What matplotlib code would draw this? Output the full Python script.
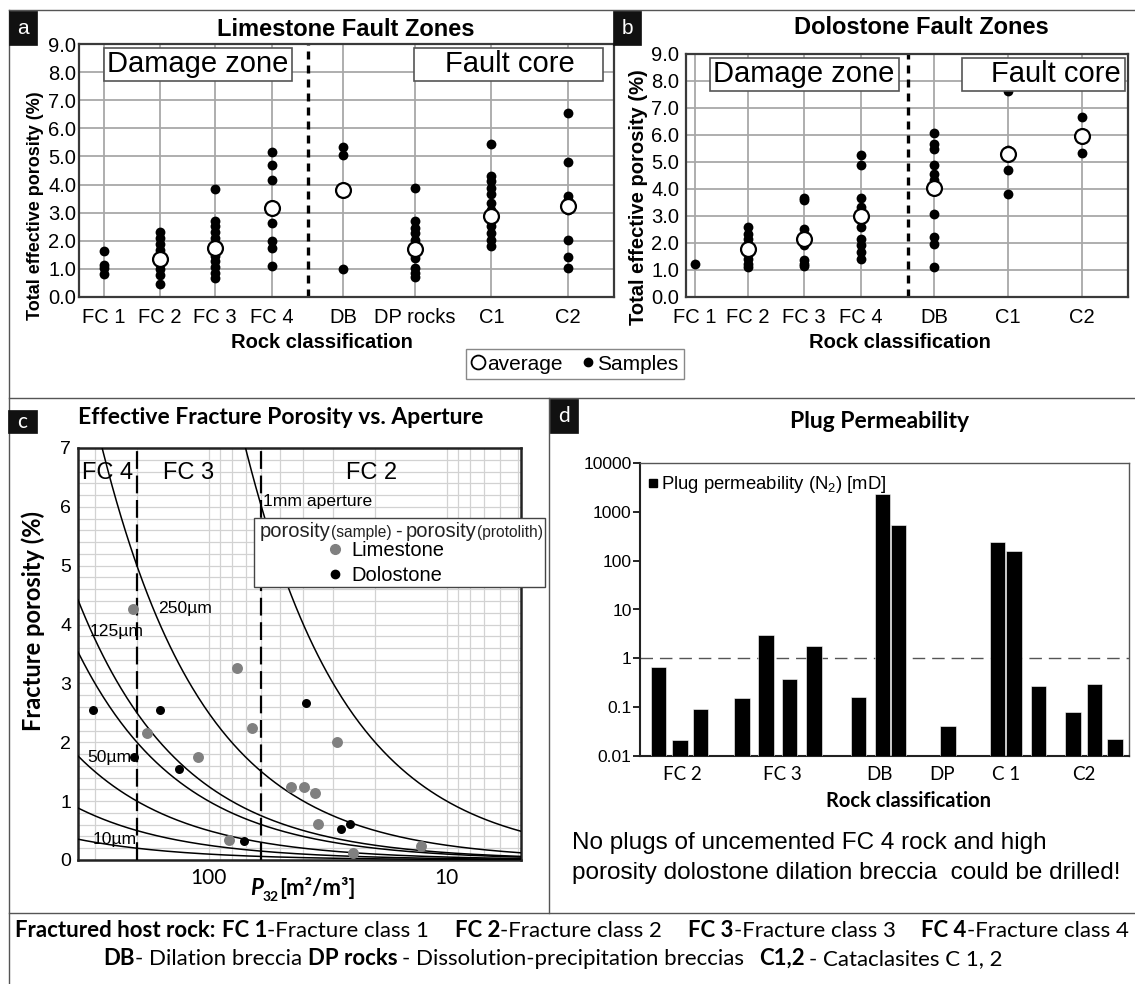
import numpy as np
import matplotlib
matplotlib.use("Agg")
import matplotlib.pyplot as plt
from matplotlib.patches import Rectangle
from matplotlib.lines import Line2D
from matplotlib.ticker import MultipleLocator, NullFormatter, NullLocator

W, H = 1135, 984
ARIAL = "Liberation Sans"
CALI = "Lato"
plt.rcParams["font.family"] = [ARIAL, "DejaVu Sans"]
plt.rcParams["mathtext.fontset"] = "custom"
plt.rcParams["mathtext.rm"] = ARIAL
plt.rcParams["mathtext.it"] = ARIAL + ":italic"
plt.rcParams["mathtext.bf"] = ARIAL + ":bold"

# ---- panel a: limestone porosity (%)
lime_cats = ["FC 1", "FC 2", "FC 3", "FC 4", "DB", "DP rocks", "C1", "C2"]
lime_samples = [
    [1.62, 1.13, 1.02, 0.83],
    [2.3, 2.1, 1.88, 1.67, 1.46, 1.17, 0.99, 0.79, 0.45],
    [3.85, 2.71, 2.51, 2.3, 2.1, 1.88, 1.64, 1.46, 1.29, 1.05, 0.87, 0.69],
    [5.15, 4.68, 4.17, 2.65, 1.98, 1.74, 1.11],
    [5.33, 5.04, 1.01],
    [3.89, 2.69, 2.45, 2.27, 2.03, 1.79, 1.38, 1.02, 0.84, 0.7],
    [5.46, 4.3, 4.12, 3.89, 3.65, 3.35, 3.1, 2.7, 2.51, 2.27, 2.03, 1.82],
    [6.55, 4.8, 3.58, 3.45, 3.1, 2.03, 1.43, 1.02],
]
lime_avg = [np.nan, 1.35, 1.76, 3.17, 3.82, 1.7, 2.87, 3.23]

# ---- panel b: dolostone porosity (%)
dolo_cats = ["FC 1", "FC 2", "FC 3", "FC 4", "DB", "C1", "C2"]
dolo_samples = [
    [1.24],
    [2.6, 2.35, 2.16, 1.98, 1.6, 1.42, 1.24, 1.11],
    [3.65, 3.58, 2.53, 1.92, 1.36, 1.24, 1.14],
    [5.25, 4.88, 3.65, 3.34, 2.97, 2.6, 2.16, 1.92, 1.67, 1.42],
    [6.06, 5.66, 5.48, 4.88, 4.57, 4.33, 3.09, 2.22, 1.98, 1.11],
    [7.63, 5.46, 4.72, 3.81],
    [6.67, 5.34],
]
dolo_avg = [np.nan, 1.76, 2.16, 2.99, 4.05, 5.29, 5.96]

# ---- panel c: fracture porosity vs P32
apertures_um = [1000, 250, 125, 100, 50, 25, 10]
lime_p32 = [207, 181, 111, 76, 66, 82, 45, 39.8, 35.8, 34.9, 28.9, 24.8, 12.8]
lime_phi = [4.26, 2.15, 1.75, 3.26, 2.25, 0.34, 1.24, 1.24, 1.13, 0.62, 2.01, 0.125, 0.24]
dolo_p32 = [306, 205, 160, 133, 71, 38.9, 27.9, 25.5]
dolo_phi = [2.55, 1.75, 2.55, 1.54, 0.33, 2.66, 0.52, 0.62]
fc_bounds = [200, 60]

# ---- panel d: plug permeability (mD)
perm_vals = [0.65, 0.02, 0.09, 0.15, 3.0, 0.37, 1.8, 0.16, 2300, 550, 0.04,
             240, 160, 0.27, 0.08, 0.3, 0.021]
perm_cats = ["FC 2", "FC 3", "DB", "DP", "C 1", "C2"]

# layout (category slots)
lime_pos = [0.44, 1.45, 2.42, 3.45, 4.71, 6.0, 7.36, 8.73]
dolo_pos = [0.16, 1.11, 2.11, 3.12, 4.43, 5.74, 7.06]
perm_pos = [0.88, 1.87, 2.85, 4.78, 5.92, 7.01, 8.16, 10.25, 11.38, 12.14,
            14.45, 16.78, 17.55, 18.69, 20.32, 21.32, 22.30]
perm_cat_pos = [2.01, 6.66, 11.26, 14.19, 17.2, 20.85]

fig = plt.figure(figsize=(W / 100, H / 100), dpi=100)


def rect(l, t, r, b):
    return [l / W, 1 - b / H, (r - l) / W, (b - t) / H]


def box(l, t, r, b, fc="white", ec="#555555", lw=1.2, z=5):
    fig.add_artist(Rectangle((l / W, 1 - b / H), (r - l) / W, (b - t) / H,
                             transform=fig.transFigure, facecolor=fc,
                             edgecolor=ec, lw=lw, zorder=z))


def line(x0, y0, x1, y1, color="#555555", lw=1.0):
    fig.add_artist(Line2D([x0 / W, x1 / W], [1 - y0 / H, 1 - y1 / H],
                          transform=fig.transFigure, color=color, lw=lw))


def txt(x, y, s, **kw):
    kw.setdefault("ha", "center")
    kw.setdefault("va", "center")
    return fig.text(x / W, 1 - y / H, s, **kw)


def tag(l, t, r, b, s, family):
    box(l, t, r, b, fc="#111111", ec="#111111", lw=0.5, z=6)
    txt((l + r) / 2, (t + b) / 2, s, color="white", fontsize=15,
        family=family, zorder=7)


def rich(items, x, y, ha="left", z=7):
    r = fig.canvas.get_renderer()
    made, total = [], 0.0
    for item in items:
        if isinstance(item, (int, float)):
            made.append((None, float(item), 0))
            total += item
            continue
        kw = dict(item[1])
        dy = kw.pop("dy", 0)
        t = fig.text(0, 0, item[0], va="baseline", ha="left", zorder=z, **kw)
        w = t.get_window_extent(r).width
        made.append((t, w, dy))
        total += w
    x0 = x - total / 2 if ha == "center" else x
    for t, w, dy in made:
        if t is not None:
            t.set_position((x0 / W, 1 - (y + dy) / H))
        x0 += w
    return total


# frame lines
line(9, 10, 1135, 10)
line(9, 10, 9, 984)
line(9, 398, 1135, 398)
line(549, 398, 549, 913)
line(9, 913, 1135, 913)


def fault_panel(ax, cats, pos, samples, avg, xmax, xdash, ypad):
    for p, vals in zip(pos, samples):
        ax.scatter(np.full(len(vals), p), vals, s=50, color="black",
                   linewidths=0, zorder=3)
    avg = np.array(avg, dtype=float)
    ok = ~np.isnan(avg)
    ax.scatter(np.array(pos)[ok], avg[ok], s=115, facecolor="white",
               edgecolor="black", linewidths=1.6, zorder=4)
    ax.set_xlim(0, xmax)
    ax.set_ylim(0, 9)
    ax.set_xticks(pos)
    ax.set_xticklabels(cats)
    ax.set_yticks(np.arange(0, 10))
    ax.set_yticklabels([f"{v:.1f}" for v in range(10)])
    ax.grid(True, color="#a8a8a8", lw=1.3)
    ax.set_axisbelow(True)
    ax.tick_params(length=0, labelsize=14.5)
    ax.tick_params(axis="x", pad=8)
    ax.tick_params(axis="y", pad=ypad)
    ax.axvline(xdash, color="black", lw=2.4, ls=(0, (2.4, 1.8)), zorder=2)
    for sp in ax.spines.values():
        sp.set_color("#3a3a3a")
        sp.set_linewidth(1.6)


# ---- panel a
ax_a = fig.add_axes(rect(79, 44, 614, 297))
fault_panel(ax_a, lime_cats, lime_pos, lime_samples, lime_avg, 9.55, 4.09, 2)
tag(9, 11, 37, 45, "a", ARIAL)
txt(346, 29, "Limestone Fault Zones", fontsize=17, fontweight="bold")
box(104, 48, 292, 81)
txt(198, 64, "Damage zone", fontsize=21, zorder=6)
box(414, 48, 603, 81)
txt(510, 64, "Fault core", fontsize=21, zorder=6)
txt(36, 206, "Total effective porosity (%)", rotation=90, fontsize=13,
    fontweight="bold")
txt(322, 343, "Rock classification", fontsize=14.5, fontweight="bold")

# ---- panel b
ax_b = fig.add_axes(rect(686, 54, 1128, 297))
fault_panel(ax_b, dolo_cats, dolo_pos, dolo_samples, dolo_avg, 7.89, 3.96, 5)
tag(613, 11, 641, 45, "b", ARIAL)
txt(921, 28, "Dolostone Fault Zones", fontsize=17, fontweight="bold")
box(710, 58, 899, 91)
txt(804, 74, "Damage zone", fontsize=21, zorder=6)
box(962, 58, 1125, 91)
txt(1056, 74, "Fault core", fontsize=21, zorder=6)
txt(639, 197, "Total effective porosity (%)", rotation=90, fontsize=14.5,
    fontweight="bold")
txt(900, 343, "Rock classification", fontsize=14.5, fontweight="bold")

# shared legend
leg_handles = [
    Line2D([], [], marker="o", ls="none", markersize=10, markerfacecolor="white",
           markeredgecolor="black", markeredgewidth=1.3),
    Line2D([], [], marker="o", ls="none", markersize=6, color="black"),
]
fig.legend(leg_handles, ["average", "Samples"], ncol=2, loc="center",
           bbox_to_anchor=(575 / W, 1 - 364 / H), fontsize=15,
           handlelength=0.6, handletextpad=0.15, columnspacing=0.9,
           borderpad=0.25, fancybox=False, edgecolor="#888888",
           framealpha=1)

# ---- panel c
ax_c = fig.add_axes(rect(78, 448, 521, 860))
ax_c.set_xscale("log")
ax_c.set_xlim(353.6, 4.88)
ax_c.set_ylim(0, 7)
p32 = np.geomspace(4.88, 353.6, 300)
for a_um in apertures_um:
    ax_c.plot(p32, p32 * a_um * 1e-6 * 100, color="black", lw=1.1, zorder=3)
for b in fc_bounds:
    ax_c.axvline(b, color="black", lw=1.6, ls=(0, (8, 3)), zorder=3)
ax_c.scatter(lime_p32, lime_phi, s=62, color="#808080", linewidths=0, zorder=4)
ax_c.scatter(dolo_p32, dolo_phi, s=42, color="black", linewidths=0, zorder=4)
ax_c.yaxis.set_major_locator(MultipleLocator(1))
ax_c.yaxis.set_minor_locator(MultipleLocator(0.2))
ax_c.set_xticks([100, 10])
ax_c.set_xticklabels(["100", "10"], family=CALI, fontsize=15)
ax_c.xaxis.set_minor_formatter(NullFormatter())
ax_c.grid(True, which="both", color="#d2d2d2", lw=0.9)
ax_c.set_axisbelow(True)
ax_c.tick_params(which="both", length=0, labelsize=14)
ax_c.tick_params(axis="x", labelsize=15, pad=6)
ax_c.tick_params(axis="y", pad=5)
for sp in ax_c.spines.values():
    sp.set_color("#222222")
    sp.set_linewidth(1.8)
for s, xv, yv in [("FC 4", 341.8, 6.58), ("FC 3", 155.2, 6.58), ("FC 2", 26.55, 6.58)]:
    ax_c.text(xv, yv, s, fontsize=17, ha="left", va="center", zorder=5)
for s, xv, yv in [("1mm aperture", 59.0, 6.09), ("250µm", 163.3, 4.28),
                  ("125µm", 316.4, 3.89), ("50µm", 323.9, 1.74),
                  ("10µm", 305.5, 0.34)]:
    ax_c.text(xv, yv, s, fontsize=12.6, ha="left", va="center", zorder=5)

tag(8, 410, 37, 433, "c", CALI)
txt(281, 418, "Effective Fracture Porosity vs. Aperture", family=CALI,
    fontsize=16.5, fontweight="bold")
txt(33, 621, "Fracture porosity (%)", rotation=90, family=CALI, fontsize=17,
    fontweight="bold")
big = dict(fontsize=14.5, family=ARIAL, color="#222222")
small = dict(fontsize=11.2, family=ARIAL, color="#222222")
box(254, 518, 545, 587, ec="#444444", lw=1.0, z=6)
rich([("porosity", big), ("(sample)", small), 4, ("-", big), 4,
      ("porosity", big), ("(protolith)", small)], 260, 537)
leg_c = fig.legend(
    [Line2D([], [], marker="o", ls="none", markersize=7, color="#808080"),
     Line2D([], [], marker="o", ls="none", markersize=6, color="black")],
    ["Limestone", "Dolostone"], loc="upper left",
    bbox_to_anchor=(325 / W, 1 - 541 / H),
    frameon=False, fontsize=14.5, handlelength=1.0, handletextpad=0.3,
    labelspacing=0.3, borderpad=0, borderaxespad=0)
leg_c.set_zorder(8)
pb = dict(family=CALI, fontweight="bold", fontsize=16)
rich([("P", dict(pb, fontstyle="italic")),
      ("32", dict(family=CALI, fontweight="bold", fontsize=10, dy=6)),
      ("[m²/m³]", pb)], 250, 895)

# ---- panel d
ax_d = fig.add_axes(rect(640, 463, 1129, 756))
ax_d.set_yscale("log")
ax_d.bar(perm_pos, perm_vals, width=0.72, bottom=1e-3, color="black",
         edgecolor="white", lw=0.4, zorder=3)
ax_d.set_ylim(0.01, 10000)
ax_d.set_xlim(0, 22.95)
ax_d.axhline(1, color="#555555", lw=1.0, ls=(0, (9, 5)), zorder=2)
yt = [0.01, 0.1, 1, 10, 100, 1000, 10000]
ax_d.set_yticks(yt)
ax_d.set_yticklabels(["0.01", "0.1", "1", "10", "100", "1000", "10000"])
ax_d.yaxis.set_minor_locator(NullLocator())
ax_d.set_xticks(perm_cat_pos)
ax_d.set_xticklabels(perm_cats, family=CALI, fontsize=13.5)
ax_d.tick_params(axis="x", length=0, pad=7)
ax_d.tick_params(axis="y", length=5, width=1.2, pad=1, labelsize=12.6)
for k in ["left", "bottom"]:
    ax_d.spines[k].set_color("#222222")
    ax_d.spines[k].set_linewidth(1.5)
for k in ["top", "right"]:
    ax_d.spines[k].set_color("#555555")
    ax_d.spines[k].set_linewidth(1.0)
ax_d.legend([Line2D([], [], marker="s", ls="none", markersize=5.5, color="black")],
            ["Plug permeability (N$_2$) [mD]"], loc="upper left",
            bbox_to_anchor=(647 / W, 1 - 474 / H), bbox_transform=fig.transFigure,
            frameon=False, fontsize=13.3, handlelength=0.6, handletextpad=0.15,
            borderpad=0, borderaxespad=0)
tag(550, 399, 578, 433, "d", CALI)
txt(880, 422, "Plug Permeability", family=CALI, fontsize=16.5, fontweight="bold")
txt(908, 801, "Rock classification", family=CALI, fontsize=14.5,
    fontweight="bold")
txt(572, 843, "No plugs of uncemented FC 4 rock and high", ha="left",
    fontsize=17.5)
txt(572, 873, "porosity dolostone dilation breccia  could be drilled!",
    ha="left", fontsize=17.5)

# ---- footnote
FS = 16
bold = dict(family=CALI, fontweight="bold", fontsize=FS)
reg = dict(family=CALI, fontsize=FS)
rich([("Fractured host rock:", bold), 6, ("FC 1", bold), ("-Fracture class 1", reg), 26,
      ("FC 2", bold), ("-Fracture class 2", reg), 26,
      ("FC 3", bold), ("-Fracture class 3", reg), 26,
      ("FC 4", bold), ("-Fracture class 4", reg)], 572, 937, ha="center")
rich([("DB", bold), ("- Dilation breccia", reg), 6, ("DP rocks", bold), 4,
      ("- Dissolution-precipitation breccias", reg), 16, ("C1,2", bold), 4,
      ("- Cataclasites C 1, 2", reg)], 553, 965, ha="center")

fig.savefig("out.png", dpi=100)
